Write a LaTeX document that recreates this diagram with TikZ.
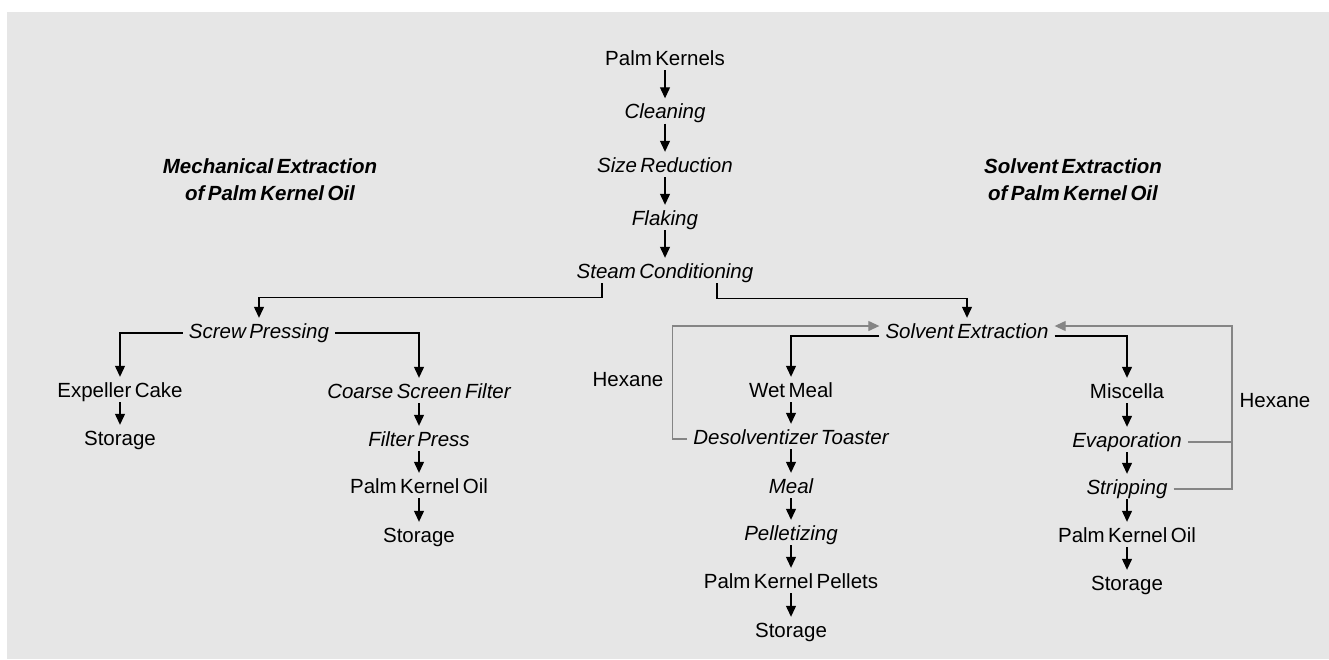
\documentclass[tikz,border=0pt]{standalone}
\usepackage{fontspec}
\setmainfont{Liberation Sans}[WordSpace=0.6]
\usetikzlibrary{arrows.meta}
\definecolor{panelGray}{HTML}{E6E6E6}
\definecolor{loopGray}{HTML}{858585}

\begin{document}
\begin{tikzpicture}
[x=1pt,y=-1pt,
  matItem/.style={inner xsep=6pt,inner ysep=0pt,text height=15pt,text depth=5pt,
    anchor=base,font=\fontsize{20.5pt}{24pt}\selectfont},%
  procStep/.style={matItem,font=\fontsize{20.5pt}{24pt}\selectfont\itshape},%
  titleText/.style={align=center,anchor=north,inner sep=0pt,
    font=\fontsize{20.5pt}{27pt}\selectfont\bfseries\itshape},%
  flowLine/.style={-{Triangle[length=11pt,width=10pt]},line width=1.2pt,shorten >=5pt},%
  hexLine/.style={-{Triangle[length=11pt,width=10pt]},draw=loopGray,line width=1.2pt}]
\useasboundingbox (0,0) rectangle (1329,659);
\fill[panelGray] (7,12) rectangle (1329,659);
%% titles
\node[titleText] (mechTitle) at (270,158) {Mechanical Extraction\\of Palm Kernel Oil};
\node[titleText] (solvTitle) at (1073,158) {Solvent Extraction\\of Palm Kernel Oil};
%% materials
\foreach \nodename/\x/\y/\txt in {
  kern/665/65/Palm Kernels, cake/120/397/Expeller Cake, storeA/120/445/Storage,
  oilA/419/493/Palm Kernel Oil, storeB/419/542/Storage, wet/791/397/Wet Meal,
  pellets/791/588/Palm Kernel Pellets, storeC/791/637/Storage,
  misc/1127/398/Miscella, oilB/1127/542/Palm Kernel Oil, storeD/1127/590/Storage,
  hexL/628/386/Hexane, hexR/1275/407/Hexane}
{
  \node (\nodename) at (\x,\y) [matItem] {\txt};
}
%% process steps
\foreach \nodename/\x/\y/\txt in {
  clean/665/118.5/Cleaning, size/665/172/Size Reduction, flake/665/225/Flaking,
  steam/665/278/Steam Conditioning, screw/259/338/Screw Pressing,
  coarse/419/398/Coarse Screen Filter, fpress/419/446/Filter Press,
  solvent/967/338/Solvent Extraction, desolv/791/444/Desolventizer Toaster,
  meal/791/493/Meal, pellet/791/540/Pelletizing,
  evap/1127/447/Evaporation, strip/1127/494/Stripping}
{
  \node (\nodename) at (\x,\y) [procStep] {\txt};
}
%% straight arrows
\path
\foreach \startnode/\endnode in {
  kern/clean, clean/size, size/flake, flake/steam, cake/storeA,
  coarse/fpress, fpress/oilA, oilA/storeB, wet/desolv, desolv/meal,
  meal/pellet, pellet/pellets, pellets/storeC, misc/evap, evap/strip,
  strip/oilB, oilB/storeD}
{
  (\startnode.south) edge[flowLine] (\endnode.north)
};
%% branches
\draw[flowLine] ([xshift=-63pt]steam.south) -- ++(0,14) -| (screw.north);
\draw[flowLine] ([xshift=52pt]steam.south) -- ++(0,15) -| (solvent.north);
\draw[flowLine] (screw.west) -| (cake.north);
\draw[flowLine] (screw.east) -| (coarse.north);
\draw[flowLine] ([yshift=-3pt]solvent.west) -| (wet.north);
\draw[flowLine] ([yshift=-3pt]solvent.east) -| (misc.north);
%% hexane recycle
\draw[hexLine] (desolv.west) -- ++(-15,0) |- ([yshift=7pt]solvent.west);
\draw[hexLine,-] (evap.east) -- ([xshift=44pt]evap.east);
\draw[hexLine] (strip.east) -| ([xshift=44pt]evap.east) |- ([yshift=7pt]solvent.east);
\end{tikzpicture}
\end{document}
